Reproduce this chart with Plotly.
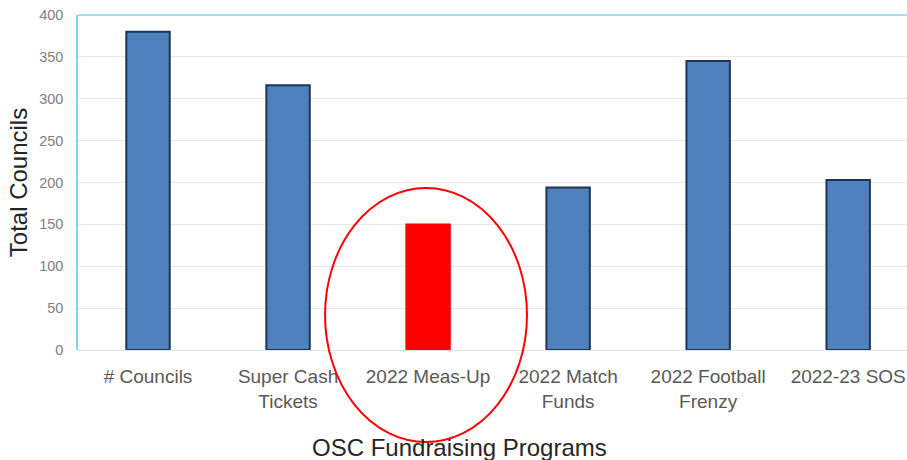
import plotly.graph_objects as go

# OSC fundraising program participation
programs = ["# Councils", "Super Cash<br>Tickets", "2022 Meas-Up", "2022 Match<br>Funds",
            "2022 Football<br>Frenzy", "2022-23 SOS"]
councils = [380, 316, 150, 194, 345, 203]
bar_colors = ["#4f81bd", "#4f81bd", "#ff0000", "#4f81bd", "#4f81bd", "#4f81bd"]
edge_colors = ["#1c3557", "#1c3557", "#ff0000", "#1c3557", "#1c3557", "#1c3557"]
y_ticks = [0, 50, 100, 150, 200, 250, 300, 350, 400]

fig = go.Figure(
    go.Bar(
        x=list(range(len(programs))),
        y=councils,
        marker=dict(color=bar_colors, line=dict(color=edge_colors, width=2)),
        width=0.31,
    )
)

axis_blue = "#7fd3f2"

fig.update_layout(
    width=907,
    height=460,
    margin=dict(l=78, r=0, t=15, b=110),
    paper_bgcolor="white",
    plot_bgcolor="white",
    showlegend=False,
    font=dict(family="Liberation Sans, Arial, sans-serif"),
    xaxis=dict(
        tickmode="array",
        tickvals=list(range(len(programs))),
        ticktext=programs,
        range=[-0.5, 5.42],
        showgrid=False,
        showline=False,
        zeroline=False,
        ticks="",
        tickfont=dict(size=19, color="#595959"),
        ticklabelstandoff=13,
        automargin=False,
    ),
    yaxis=dict(
        range=[0, 400],
        tickvals=y_ticks,
        showgrid=True,
        gridcolor="#e8e8e8",
        gridwidth=1,
        zeroline=True,
        zerolinecolor="#dde3e6",
        zerolinewidth=1,
        showline=True,
        linecolor=axis_blue,
        linewidth=1.5,
        ticks="",
        tickfont=dict(size=14.5, color="#7f7f7f"),
        ticklabelstandoff=10,
        title=dict(text="Total Councils", font=dict(size=24, color="#262626"), standoff=5),
        automargin=False,
    ),
    shapes=[
        # top frame line
        dict(type="line", xref="paper", yref="paper", x0=0, x1=1.02, y0=1, y1=1,
             line=dict(color=axis_blue, width=1.5)),
        # highlight ring around the Meas-Up program
        dict(type="circle", xref="paper", yref="paper",
             x0=0.298, x1=0.5416, y0=-0.2746, y1=0.4836,
             line=dict(color="#ff0000", width=2), fillcolor="rgba(0,0,0,0)"),
    ],
    annotations=[
        dict(text="OSC Fundraising Programs", xref="paper", yref="paper",
             x=0.46, y=-0.29, xanchor="center", yanchor="middle", showarrow=False,
             font=dict(size=24, color="#262626")),
    ],
)

fig.write_html("out.html")
